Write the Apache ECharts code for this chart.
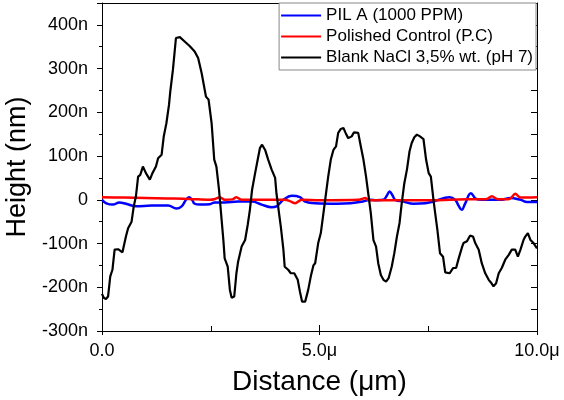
<!DOCTYPE html>
<html>
<head>
<meta charset="utf-8">
<script src="https://cdn.jsdelivr.net/npm/echarts@6/dist/echarts.min.js"></script>
<style>
  html, body { margin: 0; padding: 0; background: #fff; }
  #grafico { width: 564px; height: 400px; }
</style>
</head>
<body>
<div id="grafico"></div>
<script>
// Distance in µm, height in nm
var blankX = [0.00, 0.04, 0.09, 0.14, 0.19, 0.24, 0.29, 0.37, 0.47, 0.55, 0.60, 0.68, 0.73, 0.78, 0.83, 0.88, 0.94, 1.01, 1.10, 1.16,
  1.24, 1.29, 1.37, 1.42, 1.48, 1.54, 1.57, 1.63, 1.70, 1.79, 1.90, 2.02, 2.13, 2.21, 2.29, 2.39, 2.45, 2.52, 2.58, 2.63,
  2.69, 2.73, 2.79, 2.82, 2.89, 2.94, 2.98, 3.04, 3.09, 3.13, 3.21, 3.29, 3.35, 3.40, 3.45, 3.52, 3.58, 3.63, 3.68, 3.75,
  3.82, 3.90, 3.98, 4.01, 4.07, 4.11, 4.17, 4.20, 4.28, 4.34, 4.42, 4.50, 4.55, 4.60, 4.67, 4.74, 4.80, 4.86, 4.90, 4.97,
  5.03, 5.09, 5.15, 5.20, 5.26, 5.32, 5.38, 5.43, 5.49, 5.55, 5.60, 5.66, 5.74, 5.79, 5.89, 5.95, 6.01, 6.07, 6.12, 6.18,
  6.24, 6.30, 6.35, 6.41, 6.47, 6.53, 6.59, 6.66, 6.72, 6.78, 6.84, 6.89, 6.95, 7.01, 7.07, 7.12, 7.18, 7.24, 7.31, 7.39,
  7.45, 7.51, 7.56, 7.62, 7.66, 7.71, 7.77, 7.84, 7.89, 7.99, 8.07, 8.14, 8.20, 8.28, 8.31, 8.39, 8.46, 8.53, 8.58, 8.66,
  8.73, 8.81, 8.89, 8.94, 9.00, 9.06, 9.12, 9.19, 9.27, 9.35, 9.42, 9.50, 9.56, 9.62, 9.69, 9.73, 9.79, 9.85, 9.92, 10.00];
var blankY = [-215, -224, -227, -221, -175, -160, -114, -113, -120, -84, -65, -50, -15, 8, 53, 57, 76, 61, 46, 61,
  76, 95, 103, 145, 175, 217, 248, 297, 370, 372, 362, 351, 339, 324, 290, 236, 229, 175, 92, 76,
  23, -23, -92, -134, -153, -206, -224, -221, -168, -141, -107, -92, -57, -23, 23, 61, 92, 118, 126, 114,
  92, 69, 50, 15, -31, -61, -114, -153, -160, -168, -168, -183, -210, -233, -233, -206, -175, -150, -145, -99,
  -76, -31, 15, 53, 92, 114, 122, 153, 162, 164, 153, 141, 145, 154, 153, 122, 92, 53, 15, -31,
  -92, -107, -145, -172, -183, -187, -179, -153, -122, -84, -53, -8, 38, 69, 111, 130, 143, 149, 145, 139,
  92, 61, 53, 0, -31, -69, -122, -130, -166, -168, -156, -156, -134, -107, -99, -95, -82, -84, -99, -114,
  -145, -168, -183, -189, -198, -191, -168, -156, -137, -126, -114, -114, -130, -114, -92, -84, -76, -92, -99, -111];

var pilX = [0.0, 0.1, 0.25, 0.4, 0.55, 0.79, 1.14, 1.52, 1.71, 1.83, 1.93, 2.0, 2.07, 2.13, 2.25, 2.48, 2.59, 2.82, 3.13, 3.45,
  3.67, 3.90, 4.01, 4.17, 4.36, 4.55, 4.67, 4.90, 5.40, 5.71, 6.0, 6.16, 6.31, 6.47, 6.55, 6.61, 6.68, 6.74, 6.93, 7.16,
  7.43, 7.62, 7.99, 8.12, 8.2, 8.27, 8.35, 8.48, 8.60, 8.73, 8.92, 9.15, 9.39, 9.62, 9.77, 10.0];
var pilY = [0, -8, -11, -6, -9, -15, -13, -13, -20, -15, 0, 6, 0, -9, -11, -10, -6, -6, -4, -4,
  -11, -17, -15, 0, 9, 6, -4, -8, -9, -8, -4, 0, -1, 0, 10, 19, 10, 0, -4, -9,
  -8, -4, 6, 0, -14, -23, -8, 15, 2, 0, 0, 0, 4, 0, -5, -5];

var pcX = [0.0, 0.5, 1.0, 1.5, 2.0, 2.48, 2.6, 2.71, 2.82, 3.0, 3.09, 3.21, 3.6, 4.2, 4.32, 4.44, 4.59, 5.0, 5.9, 6.06,
  6.12, 7.0, 7.43, 8.0, 8.39, 8.85, 8.96, 9.1, 9.37, 9.5, 9.62, 10.0];
var pcY = [6, 5, 4, 3, 2, 0, 2, 6, 0, 1, 6, 0, 0, 0, -3, -8, 0, -1, 0, 4,
  -1, -1, -1, 0, 1, 2, 8, 1, 2, 14, 5, 6];

var seriesNames = ['PIL A (1000 PPM)', 'Polished Control (P.C)', 'Blank NaCl 3,5% wt. (pH 7)'];

function zip(xs, ys) {
  return xs.map(function (x, i) { return [x, ys[i]]; });
}

var chartDom = document.getElementById('grafico');
var myChart = echarts.init(chartDom);
var option;

var fontFam = '"Liberation Sans", Arial, sans-serif';

option = {
  animation: false,
  backgroundColor: '#fff',
  grid: { left: 102, right: 27, top: 3, bottom: 69, outerBoundsMode: 'none' },
  legend: {
    orient: 'vertical',
    right: 28,
    top: 3,
    data: seriesNames,
    icon: 'rect',
    itemWidth: 40,
    itemHeight: 2,
    itemGap: 4,
    padding: [4, 3, 4, 2],
    borderColor: '#888',
    borderWidth: 1,
    backgroundColor: '#fff',
    textStyle: { fontFamily: fontFam, fontSize: 17, color: '#000' }
  },
  xAxis: [
    {
      type: 'value',
      position: 'bottom',
      min: 0,
      max: 10,
      interval: 5,
      name: 'Distance (μm)',
      nameLocation: 'middle',
      nameGap: 37,
      nameTextStyle: { fontFamily: fontFam, fontSize: 28, color: '#000' },
      axisLine: { onZero: false, lineStyle: { color: '#000', width: 1 } },
      axisTick: { show: true, length: 4, lineStyle: { color: '#000' } },
      axisLabel: {
        fontFamily: fontFam, fontSize: 18, color: '#000', margin: 11,
        formatter: function (v) { return v === 0 ? '0.0' : v.toFixed(1) + 'μ'; }
      },
      splitLine: { show: false }
    },
    {
      type: 'value',
      position: 'bottom',
      min: 0,
      max: 10,
      interval: 5,
      axisLine: { show: false, onZero: false },
      axisTick: { show: true, inside: true, length: 6, lineStyle: { color: '#000' } },
      minorTick: { show: true, splitNumber: 2, length: 5, lineStyle: { color: '#000' } },
      axisLabel: { show: false },
      splitLine: { show: false }
    },
    {
      type: 'value',
      position: 'top',
      min: 0,
      max: 10,
      axisLine: { onZero: false, lineStyle: { color: '#000', width: 1 } },
      axisTick: { show: false },
      axisLabel: { show: false },
      splitLine: { show: false }
    }
  ],
  yAxis: [
    {
      type: 'value',
      position: 'left',
      min: -300,
      max: 450,
      interval: 100,
      name: 'Height (nm)',
      nameLocation: 'middle',
      nameGap: 70,
      nameTextStyle: { fontFamily: fontFam, fontSize: 27, color: '#000' },
      axisLine: { onZero: false, lineStyle: { color: '#000', width: 1 } },
      axisTick: { show: true, length: 5, lineStyle: { color: '#000' } },
      minorTick: { show: true, splitNumber: 2, length: 3, lineStyle: { color: '#000' } },
      axisLabel: {
        fontFamily: fontFam, fontSize: 18, color: '#000', margin: 14,
        showMaxLabel: false,
        formatter: function (v) { return v === 0 ? '0' : v + 'n'; }
      },
      splitLine: { show: false }
    },
    {
      type: 'value',
      position: 'right',
      min: -300,
      max: 450,
      interval: 50,
      axisLine: { onZero: false, lineStyle: { color: '#000', width: 1 } },
      axisTick: { show: true, inside: true, length: 6, lineStyle: { color: '#000' } },
      axisLabel: { show: false },
      splitLine: { show: false }
    }
  ],
  series: [
    {
      name: seriesNames[0],
      type: 'line',
      symbol: 'none',
      smooth: 0.4,
      color: '#0000ff',
      lineStyle: { color: '#0000ff', width: 2.5 },
      data: zip(pilX, pilY)
    },
    {
      name: seriesNames[1],
      type: 'line',
      symbol: 'none',
      smooth: 0.3,
      color: '#ff0000',
      lineStyle: { color: '#ff0000', width: 2.5 },
      data: zip(pcX, pcY)
    },
    {
      name: seriesNames[2],
      type: 'line',
      symbol: 'none',
      color: '#000000',
      lineStyle: { color: '#000000', width: 2.2 },
      data: zip(blankX, blankY)
    }
  ]
};

option && myChart.setOption(option);
</script>
</body>
</html>
